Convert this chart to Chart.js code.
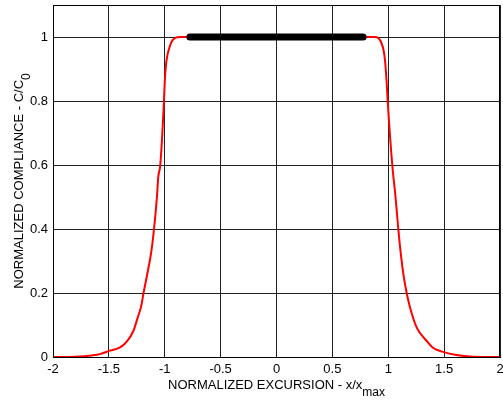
<!DOCTYPE html>
<html>
<head>
<meta charset="utf-8">
<script src="https://cdn.jsdelivr.net/npm/chart.js@4.4.1/dist/chart.umd.min.js"></script>
<style>
  html, body { margin: 0; padding: 0; background: #fff; }
  #wrap { width: 503px; height: 400px; }
</style>
</head>
<body>
<div id="wrap"><canvas id="compliance" width="503" height="400"></canvas></div>
<script>
// normalized excursion (x) and normalized compliance (y) of the curve
const curveX = [
  -2, -1.8, -1.65, -1.58, -1.49, -1.40, -1.34, -1.28, -1.245, -1.21, -1.19,
  -1.156, -1.12, -1.096, -1.07, -1.058, -1.04, -1.007, -1.0, -0.99, -0.975,
  -0.96, -0.945, -0.93, -0.9, -0.86,
  0.88, 0.91, 0.93, 0.945, 0.956, 0.97, 0.986, 0.995, 1.036, 1.065, 1.09,
  1.11, 1.135, 1.165, 1.195, 1.255, 1.344, 1.40, 1.49, 1.61, 1.76, 2
];
const curveY = [
  0, 0.001, 0.005, 0.009, 0.02, 0.03, 0.048, 0.082, 0.12, 0.16, 0.2,
  0.26, 0.33, 0.4, 0.5, 0.563, 0.6, 0.8, 0.86, 0.91, 0.945,
  0.965, 0.98, 0.99, 0.998, 1.0,
  1.0, 0.997, 0.988, 0.975, 0.962, 0.93, 0.857, 0.8, 0.6, 0.5, 0.4,
  0.33, 0.26, 0.2, 0.155, 0.092, 0.05, 0.029, 0.016, 0.006, 0.001, 0
];
// thick flat segment at full compliance
const flatX = [-0.775, 0.775];
const flatY = [1, 1];

const xTicks = [-2, -1.5, -1, -0.5, 0, 0.5, 1, 1.5, 2];
const yTicks = [0, 0.2, 0.4, 0.6, 0.8, 1];

const xTitle = ['NORMALIZED EXCURSION - x/x', 'max'];
const yTitle = ['NORMALIZED COMPLIANCE - C/C', '0'];

const FONT = '"Liberation Sans", Arial, sans-serif';
const gridColor = '#222';

const toPoints = (xs, ys) => xs.map((x, i) => ({ x: x, y: ys[i] }));

// fixed axis sizes, and no extra room for overhanging tick labels
function fixSize(prop, size) {
  return (scale) => {
    scale[prop] = size;
    scale.paddingTop = 0;
    scale.paddingBottom = 0;
    scale.paddingLeft = 0;
    scale.paddingRight = 0;
  };
}

// axis titles with a subscript part, plus the box around the plot
const titlesPlugin = {
  id: 'titles',
  afterDraw(chart) {
    const ctx = chart.ctx;
    const area = chart.chartArea;
    ctx.save();
    ctx.fillStyle = '#000';
    ctx.textBaseline = 'alphabetic';

    // box
    ctx.strokeStyle = '#000';
    ctx.lineWidth = 1;
    ctx.strokeRect(Math.round(area.left) + 0.5, Math.round(area.top) + 0.5,
      Math.round(area.right - area.left) - 1, Math.round(area.bottom - area.top));

    const mainFont = '13px ' + FONT;
    const subFont = '12px ' + FONT;

    // x title
    ctx.font = mainFont;
    const w1 = ctx.measureText(xTitle[0]).width;
    ctx.font = subFont;
    const w2 = ctx.measureText(xTitle[1]).width;
    let x0 = (area.left + area.right) / 2 - (w1 + w2) / 2;
    ctx.font = mainFont;
    ctx.textAlign = 'left';
    ctx.fillText(xTitle[0], x0, 389);
    ctx.font = subFont;
    ctx.fillText(xTitle[1], x0 + w1, 396);

    // y title
    ctx.translate(23, (area.top + area.bottom) / 2);
    ctx.rotate(-Math.PI / 2);
    ctx.font = mainFont;
    const h1 = ctx.measureText(yTitle[0]).width;
    ctx.font = subFont;
    const h2 = ctx.measureText(yTitle[1]).width;
    const s0 = -(h1 + h2) / 2;
    ctx.font = mainFont;
    ctx.fillText(yTitle[0], s0, 0);
    ctx.font = subFont;
    ctx.fillText(yTitle[1], s0 + h1, 7);
    ctx.restore();
  }
};

new Chart(document.getElementById('compliance'), {
  type: 'scatter',
  data: {
    datasets: [
      {
        data: toPoints(flatX, flatY),
        showLine: true,
        borderColor: '#000',
        borderWidth: 7,
        borderCapStyle: 'round',
        pointRadius: 0
      },
      {
        data: toPoints(curveX, curveY),
        showLine: true,
        borderColor: '#ff0000',
        borderWidth: 2,
        cubicInterpolationMode: 'monotone',
        pointRadius: 0
      }
    ]
  },
  options: {
    responsive: false,
    animation: false,
    layout: { autoPadding: false, padding: { top: 5, right: 3, left: 0, bottom: 0 } },
    plugins: {
      legend: { display: false },
      tooltip: { enabled: false }
    },
    scales: {
      x: {
        type: 'linear',
        min: -2,
        max: 2,
        afterBuildTicks: (axis) => { axis.ticks = xTicks.map(v => ({ value: v })); },
        afterFit: fixSize('height', 43),
        grid: { color: gridColor, drawTicks: false },
        border: { color: '#000' },
        ticks: {
          color: '#000',
          font: { family: FONT, size: 13 },
          padding: 5,
          maxRotation: 0,
          callback: (v) => String(v)
        }
      },
      y: {
        type: 'linear',
        min: 0,
        max: 1.1,
        afterBuildTicks: (axis) => { axis.ticks = yTicks.map(v => ({ value: v })); },
        afterFit: fixSize('width', 53),
        grid: { color: gridColor, drawTicks: false },
        border: { color: '#000' },
        ticks: {
          color: '#000',
          font: { family: FONT, size: 13 },
          padding: 5,
          callback: (v) => String(v)
        }
      }
    }
  },
  plugins: [titlesPlugin]
});
</script>
</body>
</html>
